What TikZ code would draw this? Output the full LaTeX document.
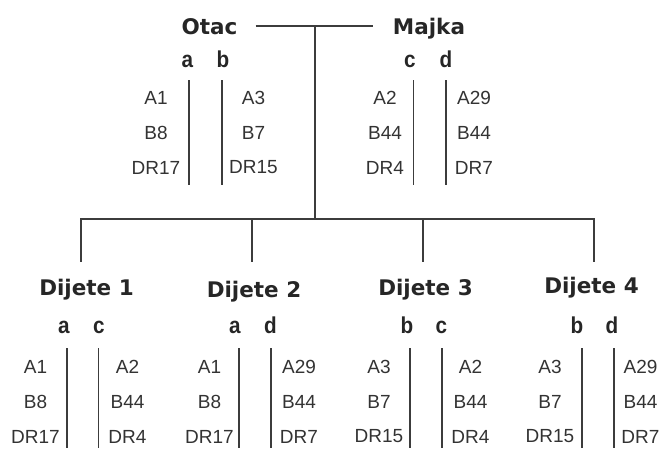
\documentclass[tikz,border=0pt]{standalone}
\usepackage{fontspec}
\setmainfont{Liberation Sans}
\newfontfamily\naslovfont{DejaVu Sans}
\newfontfamily\genfont[FakeStretch=0.9]{Liberation Sans}
\usetikzlibrary{positioning}
\definecolor{crta}{HTML}{3C3C3C}
\definecolor{tekst}{HTML}{262626}
\definecolor{alelboja}{HTML}{333333}
\tikzstyle{naslov} = [anchor=base, inner sep=0pt, font=\naslovfont\bfseries\fontsize{21.5}{25}\selectfont, text=tekst]
\tikzstyle{gen} = [anchor=base, inner sep=0pt, font=\genfont\bfseries\fontsize{23}{27}\selectfont, text=tekst]
\tikzstyle{alel} = [inner sep=0pt, font=\fontsize{19}{23}\selectfont, text=alelboja]
\tikzstyle{linija} = [draw=crta, line width=1.6pt]

\begin{document}
\begin{tikzpicture}[x=1pt, y=-1pt, node distance=35pt]
\useasboundingbox (0,0) rectangle (662,448);
% Roditelji i djeca
\node (otac) [naslov] at (209.5,34) {Otac};
\node (majka) [naslov] at (429,34) {Majka};
\node (dijete1) [naslov] at (86.5,295) {Dijete 1};
\node (dijete2) [naslov] at (254,297) {Dijete 2};
\node (dijete3) [naslov] at (425.5,295) {Dijete 3};
\node (dijete4) [naslov] at (591.5,293) {Dijete 4};

% Haplotipovi
\node (otac-a) [gen] at (187.5,67) {a};
\node (otac-b) [gen] at (223,67) {b};
\node (majka-c) [gen] at (410,67) {c};
\node (majka-d) [gen] at (446,67) {d};
\node (d1-a) [gen] at (64,333) {a};
\node (d1-c) [gen] at (99,333) {c};
\node (d2-a) [gen] at (235,333) {a};
\node (d2-d) [gen] at (270.5,333) {d};
\node (d3-b) [gen] at (407,333) {b};
\node (d3-c) [gen] at (441.5,333) {c};
\node (d4-b) [gen] at (577,333) {b};
\node (d4-d) [gen] at (612,333) {d};

% Aleli roditelja
\node (otac-a1) [alel] at (156,97.5) {A1};
\node (otac-a2) [alel, below of=otac-a1] {B8};
\node (otac-a3) [alel, below of=otac-a2] {DR17};
\node (otac-b1) [alel] at (253.5,97.5) {A3};
\node (otac-b2) [alel, below of=otac-b1] {B7};
\node (otac-b3) [alel, below of=otac-b2] {DR15};
\node (majka-c1) [alel] at (385,97.5) {A2};
\node (majka-c2) [alel, below of=majka-c1] {B44};
\node (majka-c3) [alel, below of=majka-c2] {DR4};
\node (majka-d1) [alel] at (474,97.5) {A29};
\node (majka-d2) [alel, below of=majka-d1] {B44};
\node (majka-d3) [alel, below of=majka-d2] {DR7};

% Aleli djece
\node (d1-a1) [alel] at (35.5,366.5) {A1};
\node (d1-a2) [alel, below of=d1-a1] {B8};
\node (d1-a3) [alel, below of=d1-a2] {DR17};
\node (d1-c1) [alel] at (127.5,366.5) {A2};
\node (d1-c2) [alel, below of=d1-c1] {B44};
\node (d1-c3) [alel, below of=d1-c2] {DR4};
\node (d2-a1) [alel] at (209.5,366.5) {A1};
\node (d2-a2) [alel, below of=d2-a1] {B8};
\node (d2-a3) [alel, below of=d2-a2] {DR17};
\node (d2-d1) [alel] at (299,366.5) {A29};
\node (d2-d2) [alel, below of=d2-d1] {B44};
\node (d2-d3) [alel, below of=d2-d2] {DR7};
\node (d3-b1) [alel] at (379,366.5) {A3};
\node (d3-b2) [alel, below of=d3-b1] {B7};
\node (d3-b3) [alel, below of=d3-b2] {DR15};
\node (d3-c1) [alel] at (470.5,366.5) {A2};
\node (d3-c2) [alel, below of=d3-c1] {B44};
\node (d3-c3) [alel, below of=d3-c2] {DR4};
\node (d4-b1) [alel] at (550,366.5) {A3};
\node (d4-b2) [alel, below of=d4-b1] {B7};
\node (d4-b3) [alel, below of=d4-b2] {DR15};
\node (d4-d1) [alel] at (640.5,366.5) {A29};
\node (d4-d2) [alel, below of=d4-d1] {B44};
\node (d4-d3) [alel, below of=d4-d2] {DR7};

% Stablo
\coordinate (spoj) at (315,26);
\coordinate (grana) at (315,219);
\coordinate (k1) at (81,262);
\coordinate (k2) at (252,262);
\coordinate (k3) at (423,262);
\coordinate (k4) at (594,262);
\draw [linija, shorten <=18pt, shorten >=20pt] (otac.east |- spoj) -- (majka.west |- spoj);
\draw [linija] (spoj) -- (grana);
\draw [linija] (grana) -| (k1);
\draw [linija] (grana) -| (k2);
\draw [linija] (grana) -| (k3);
\draw [linija] (grana) -| (k4);

% Razdjelnici haplotipova
\draw [linija] (189,80) -- (189,185);
\draw [linija] (222,80) -- (222,185);
\draw [linija] (413.3,80) -- (413.3,185);
\draw [linija] (445.7,80) -- (445.7,185);
\draw [linija] (66.7,348) -- (66.7,448);
\draw [linija] (98.3,348) -- (98.3,448);
\draw [linija] (239,348) -- (239,448);
\draw [linija] (271,348) -- (271,448);
\draw [linija] (410,348) -- (410,448);
\draw [linija] (441.7,348) -- (441.7,448);
\draw [linija] (582,348) -- (582,448);
\draw [linija] (614,348) -- (614,448);

\end{tikzpicture}
\end{document}
